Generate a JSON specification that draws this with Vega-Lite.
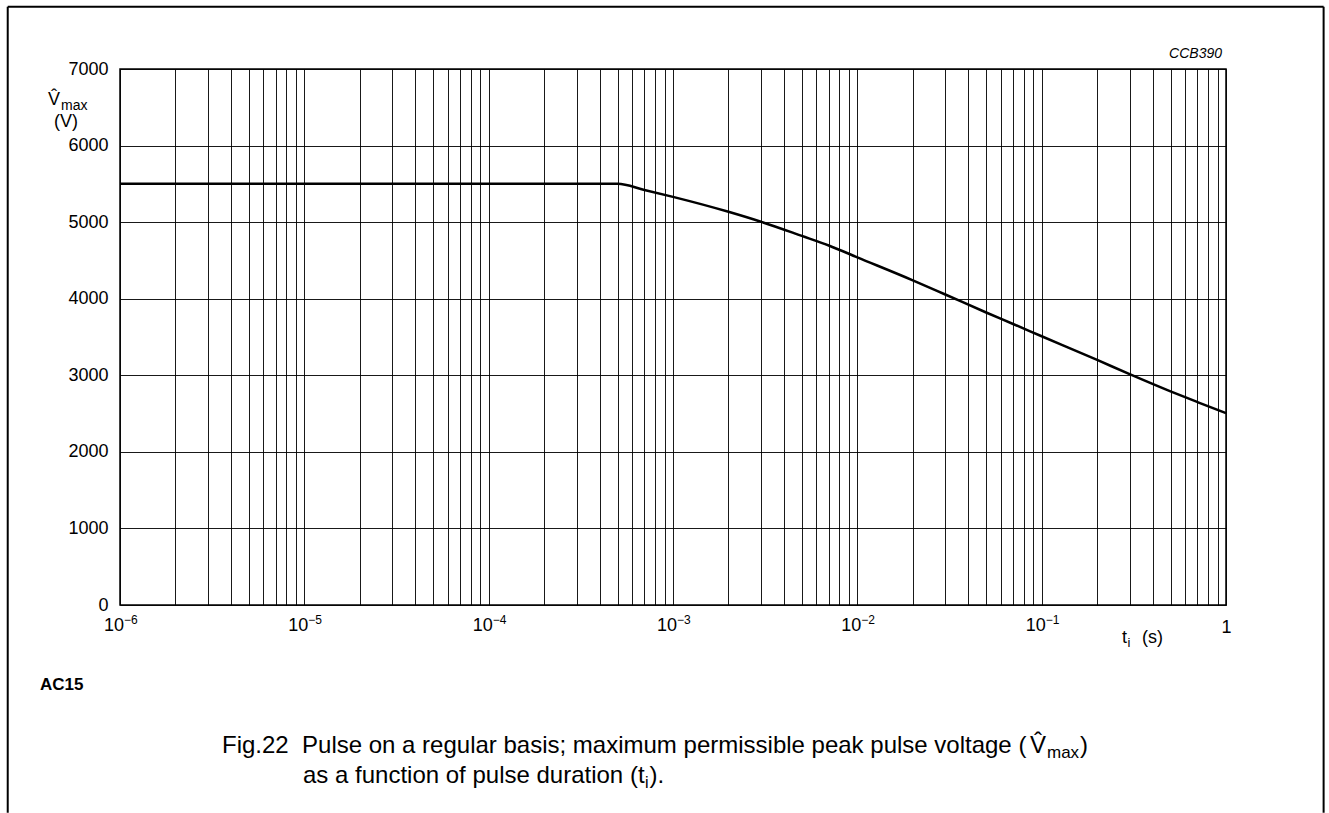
{
  "$schema": "https://vega.github.io/schema/vega-lite/v6.json",
  "width": 1106,
  "height": 536,
  "autosize": "none",
  "padding": {"left": 120, "top": 69, "right": 103, "bottom": 208},
  "background": "white",
  "config": {
    "font": "Liberation Sans",
    "view": {"stroke": "black", "strokeWidth": 1.5},
    "axis": {"labelColor": "black", "titleColor": "black", "labelFont": "Liberation Sans", "titleFont": "Liberation Sans"},
    "text": {"font": "Liberation Sans", "color": "black", "baseline": "alphabetic", "align": "left"}
  },
  "datasets": {
    "curve": [
      {"t": 0.000001, "v": 5500},
      {"t": 0.0005, "v": 5500},
      {"t": 0.0007, "v": 5420},
      {"t": 0.001, "v": 5330},
      {"t": 0.002, "v": 5135},
      {"t": 0.003, "v": 5005},
      {"t": 0.005, "v": 4820},
      {"t": 0.007, "v": 4695},
      {"t": 0.01, "v": 4540},
      {"t": 0.02, "v": 4240},
      {"t": 0.03, "v": 4055},
      {"t": 0.05, "v": 3820},
      {"t": 0.07, "v": 3670},
      {"t": 0.1, "v": 3510},
      {"t": 0.2, "v": 3200},
      {"t": 0.3, "v": 3015},
      {"t": 0.5, "v": 2790},
      {"t": 0.7, "v": 2650},
      {"t": 1, "v": 2505}
    ],
    "decades": [
      {"t": 0.000001, "e": "\u22126"},
      {"t": 0.00001, "e": "\u22125"},
      {"t": 0.0001, "e": "\u22124"},
      {"t": 0.001, "e": "\u22123"},
      {"t": 0.01, "e": "\u22122"},
      {"t": 0.1, "e": "\u22121"}
    ],
    "one": [{}]
  },
  "layer": [
    {
      "data": {"name": "curve"},
      "mark": {"type": "line", "color": "black", "strokeWidth": 2.5, "interpolate": "monotone"},
      "encoding": {
        "x": {
          "field": "t",
          "type": "quantitative",
          "scale": {"type": "log", "domain": [0.000001, 1], "nice": false},
          "axis": {
            "values": [0.000001,0.000002,0.000003,0.000004,0.000005,0.000006,0.000007,0.000008,0.000009,
                       0.00001,0.00002,0.00003,0.00004,0.00005,0.00006,0.00007,0.00008,0.00009,
                       0.0001,0.0002,0.0003,0.0004,0.0005,0.0006,0.0007,0.0008,0.0009,
                       0.001,0.002,0.003,0.004,0.005,0.006,0.007,0.008,0.009,
                       0.01,0.02,0.03,0.04,0.05,0.06,0.07,0.08,0.09,
                       0.1,0.2,0.3,0.4,0.5,0.6,0.7,0.8,0.9,1],
            "labelExpr": "datum.value == 1 ? '1' : ''",
            "grid": true,
            "gridColor": "black",
            "gridWidth": 1,
            "gridOpacity": 0.9,
            "ticks": false,
            "domain": false,
            "labelFontSize": 18,
            "labelPadding": 13,
            "labelFlush": false,
            "labelOverlap": false,
            "labelBound": false,
            "title": null
          }
        },
        "y": {
          "field": "v",
          "type": "quantitative",
          "scale": {"domain": [0, 7000], "nice": false},
          "axis": {
            "values": [0,250,500,750,1000,1250,1500,1750,2000,2250,2500,2750,3000,3250,3500,3750,4000,4250,4500,4750,5000,5250,5500,5750,6000,6250,6500,6750,7000],
            "labelExpr": "datum.value % 1000 == 0 ? format(datum.value, 'd') : ''",
            "grid": true,
            "gridColor": "black",
            "gridWidth": 1,
            "gridOpacity": 0.9,
            "ticks": false,
            "domain": false,
            "labelFontSize": 18,
            "labelPadding": 12,
            "labelOverlap": false,
            "labelBound": false,
            "title": null
          }
        }
      }
    },
    {
      "data": {"name": "decades"},
      "mark": {"type": "text", "text": "10", "fontSize": 18, "align": "right", "baseline": "middle", "dx": 4, "dy": 21},
      "encoding": {
        "x": {"field": "t", "type": "quantitative"},
        "y": {"datum": 0, "type": "quantitative"}
      }
    },
    {
      "data": {"name": "decades"},
      "mark": {"type": "text", "fontSize": 12, "align": "left", "baseline": "middle", "dx": 4, "dy": 15},
      "encoding": {
        "x": {"field": "t", "type": "quantitative"},
        "y": {"datum": 0, "type": "quantitative"},
        "text": {"field": "e"}
      }
    },
    {
      "data": {"name": "one"},
      "mark": {"type": "text", "text": "t", "fontSize": 18, "dx": -104, "dy": 38},
      "encoding": {"x": {"datum": 1, "type": "quantitative"}, "y": {"datum": 0, "type": "quantitative"}}
    },
    {
      "data": {"name": "one"},
      "mark": {"type": "text", "text": "i", "fontSize": 13, "dx": -98.5, "dy": 42},
      "encoding": {"x": {"datum": 1, "type": "quantitative"}, "y": {"datum": 0, "type": "quantitative"}}
    },
    {
      "data": {"name": "one"},
      "mark": {"type": "text", "text": "(s)", "fontSize": 18, "dx": -84, "dy": 38},
      "encoding": {"x": {"datum": 1, "type": "quantitative"}, "y": {"datum": 0, "type": "quantitative"}}
    },
    {
      "data": {"name": "one"},
      "mark": {"type": "text", "text": "V\u0302", "fontSize": 18, "dx": -72, "dy": 36},
      "encoding": {"x": {"datum": 0.000001, "type": "quantitative"}, "y": {"datum": 7000, "type": "quantitative"}}
    },
    {
      "data": {"name": "one"},
      "mark": {"type": "text", "text": "max", "fontSize": 14, "dx": -59, "dy": 41},
      "encoding": {"x": {"datum": 0.000001, "type": "quantitative"}, "y": {"datum": 7000, "type": "quantitative"}}
    },
    {
      "data": {"name": "one"},
      "mark": {"type": "text", "text": "(V)", "fontSize": 18, "dx": -66, "dy": 58},
      "encoding": {"x": {"datum": 0.000001, "type": "quantitative"}, "y": {"datum": 7000, "type": "quantitative"}}
    },
    {
      "data": {"name": "one"},
      "mark": {"type": "text", "text": "CCB390", "fontStyle": "italic", "fontSize": 14, "align": "right", "dx": -4, "dy": -11},
      "encoding": {"x": {"datum": 1, "type": "quantitative"}, "y": {"datum": 7000, "type": "quantitative"}}
    },
    {
      "data": {"name": "one"},
      "mark": {"type": "text", "text": "AC15", "fontWeight": "bold", "fontSize": 17, "dx": -80, "dy": 85},
      "encoding": {"x": {"datum": 0.000001, "type": "quantitative"}, "y": {"datum": 0, "type": "quantitative"}}
    },
    {
      "data": {"name": "one"},
      "mark": {"type": "text", "text": "Fig.22\u00a0\u00a0Pulse on a regular basis; maximum permissible peak pulse voltage (", "fontSize": 24, "dx": 102, "dy": 148},
      "encoding": {"x": {"datum": 0.000001, "type": "quantitative"}, "y": {"datum": 0, "type": "quantitative"}}
    },
    {
      "data": {"name": "one"},
      "mark": {"type": "text", "text": "V\u0302", "fontSize": 24, "dx": 910, "dy": 148},
      "encoding": {"x": {"datum": 0.000001, "type": "quantitative"}, "y": {"datum": 0, "type": "quantitative"}}
    },
    {
      "data": {"name": "one"},
      "mark": {"type": "text", "text": "max", "fontSize": 17, "dx": 927, "dy": 153},
      "encoding": {"x": {"datum": 0.000001, "type": "quantitative"}, "y": {"datum": 0, "type": "quantitative"}}
    },
    {
      "data": {"name": "one"},
      "mark": {"type": "text", "text": ")", "fontSize": 24, "dx": 960, "dy": 148},
      "encoding": {"x": {"datum": 0.000001, "type": "quantitative"}, "y": {"datum": 0, "type": "quantitative"}}
    },
    {
      "data": {"name": "one"},
      "mark": {"type": "text", "text": "as a function of pulse duration (t", "fontSize": 24, "dx": 183, "dy": 178},
      "encoding": {"x": {"datum": 0.000001, "type": "quantitative"}, "y": {"datum": 0, "type": "quantitative"}}
    },
    {
      "data": {"name": "one"},
      "mark": {"type": "text", "text": "i", "fontSize": 16, "dx": 525, "dy": 183},
      "encoding": {"x": {"datum": 0.000001, "type": "quantitative"}, "y": {"datum": 0, "type": "quantitative"}}
    },
    {
      "data": {"name": "one"},
      "mark": {"type": "text", "text": ").", "fontSize": 24, "dx": 529.5, "dy": 178},
      "encoding": {"x": {"datum": 0.000001, "type": "quantitative"}, "y": {"datum": 0, "type": "quantitative"}}
    },
    {
      "data": {"name": "one"},
      "mark": {"type": "rule", "color": "black", "strokeWidth": 2},
      "encoding": {
        "x": {"datum": 0.000000246, "type": "quantitative"},
        "y": {"datum": 7814, "type": "quantitative"},
        "y2": {"datum": -2713}
      }
    },
    {
      "data": {"name": "one"},
      "mark": {"type": "rule", "color": "black", "strokeWidth": 2},
      "encoding": {
        "x": {"datum": 3.385, "type": "quantitative"},
        "y": {"datum": 7814, "type": "quantitative"},
        "y2": {"datum": -2713}
      }
    },
    {
      "data": {"name": "one"},
      "mark": {"type": "rule", "color": "black", "strokeWidth": 2},
      "encoding": {
        "x": {"datum": 0.000000246, "type": "quantitative"},
        "x2": {"datum": 3.385},
        "y": {"datum": 7814, "type": "quantitative"}
      }
    }
  ]
}
